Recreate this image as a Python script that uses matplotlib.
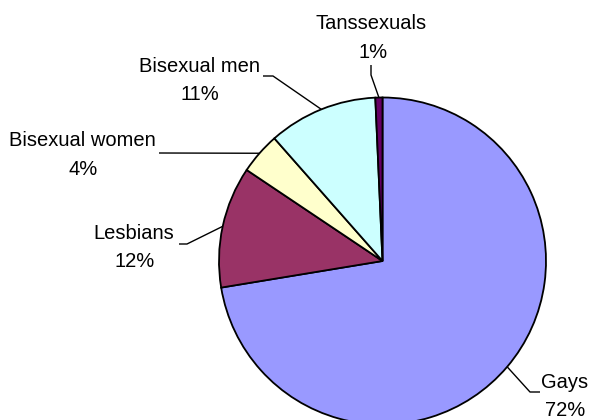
import numpy as np
import matplotlib
matplotlib.use("Agg")
import matplotlib.pyplot as plt

# 数据：按 12 点钟方向开始顺时针排列
categories = ["Gays", "Lesbians", "Bisexual women", "Bisexual men", "Tanssexuals"]
shares = [72.4, 12.0, 4.1, 10.8, 0.7]
colors = ["#9999FF", "#993366", "#FFFFCC", "#CCFFFF", "#660066"]

# 版式（像素坐标，原点在左上角）
W, H = 591, 420
CX, CY, R = 382.5, 261.0, 163.5

# 每个标签：名称基线位置、百分比基线位置、引线拐点、引线终点
label_layout = {
    "Gays":           ((565, 388), (565.5, 416), (530, 392), (540, 392)),
    "Lesbians":       ((133.7, 239), (134.7, 267), (187, 244), (179, 244)),
    "Bisexual women": ((82.5, 146.5), (83.3, 175), (159, 153), (159, 153)),
    "Bisexual men":   ((199.5, 71.5), (200, 100), (273, 76), (263, 76)),
    "Tanssexuals":    ((371, 29), (372.8, 58), (371, 75), (371, 65)),
}


def px(x, y):
    """像素坐标 -> 数据坐标（饼图圆心为原点，半径为 1）"""
    return (x - CX) / R, (CY - y) / R


plt.rcParams['font.family'] = ['Liberation Sans', 'DejaVu Sans']
fig = plt.figure(figsize=(W / 100, H / 100), dpi=100)
ax = fig.add_axes([0, 0, 1, 1])

wedges, _ = ax.pie(shares, colors=colors, startangle=90, counterclock=False,
                   radius=1.0, wedgeprops=dict(edgecolor="black", linewidth=1.3))

for w, name, val in zip(wedges, categories, shares):
    mid = np.deg2rad((w.theta1 + w.theta2) / 2)
    edge = (np.cos(mid), np.sin(mid))
    name_pos, pct_pos, elbow, end = label_layout[name]
    ex, ey = px(*elbow)
    tx, ty = px(*end)
    ax.plot([edge[0], ex, tx], [edge[1], ey, ty], color="black", linewidth=1.0,
            solid_capstyle="butt")
    ax.text(*px(*name_pos), name, ha="center", va="baseline", fontsize=14.5)
    ax.text(*px(*pct_pos), f"{round(val)}%", ha="center", va="baseline", fontsize=14.5)

x0, y0 = px(0, H)
x1, y1 = px(W, 0)
ax.set_xlim(x0, x1)
ax.set_ylim(y0, y1)
ax.set_aspect("equal", adjustable="box")
ax.axis("off")

fig.savefig("out.png", dpi=100, facecolor="white")
